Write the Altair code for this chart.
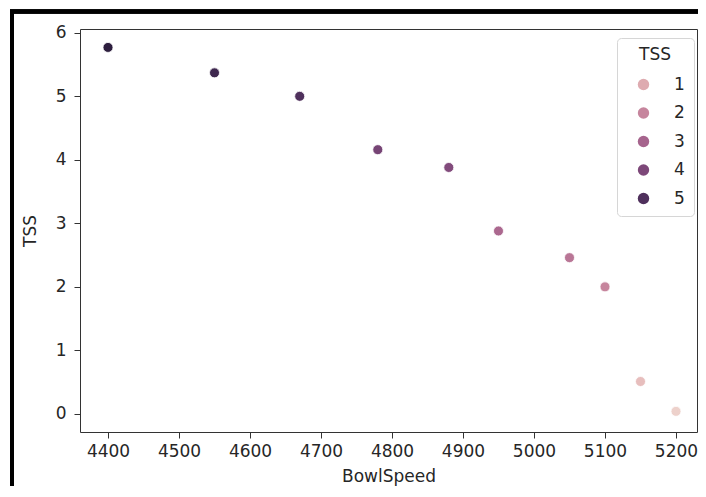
import altair as alt
import numpy as np
import pandas as pd

bowl_speed = [4400, 4550, 4670, 4780, 4880, 4950, 5050, 5100, 5150, 5200]
tss = [5.77, 5.37, 5.0, 4.16, 3.88, 2.88, 2.46, 2.0, 0.51, 0.04]
x_ticks = [4400, 4500, 4600, 4700, 4800, 4900, 5000, 5100, 5200]
y_ticks = [0, 1, 2, 3, 4, 5, 6]
legend_values = [1, 2, 3, 4, 5]

df = pd.DataFrame({"BowlSpeed": bowl_speed, "TSS": tss})


def cubehelix_hex(t, start=0.0, rot=0.4, gamma=1.0, hue=0.8, light=0.85, dark=0.15):
    x = light + (dark - light) * t
    xg = x ** gamma
    a = hue * xg * (1 - xg) / 2
    phi = 2 * np.pi * (start / 3 + rot * x)
    r = xg + a * (-0.14861 * np.cos(phi) + 1.78277 * np.sin(phi))
    g = xg + a * (-0.29227 * np.cos(phi) - 0.90649 * np.sin(phi))
    b = xg + a * (1.97294 * np.cos(phi))
    rgb = [int(round(min(max(c, 0), 1) * 255)) for c in (r, g, b)]
    return "#%02x%02x%02x" % tuple(rgb)


lo, hi = min(tss), max(tss)
stops = np.linspace(0, 1, 11)
color_domain = [float(lo + (hi - lo) * s) for s in stops]
color_range = [cubehelix_hex(s) for s in stops]

FONT = "DejaVu Sans"
TXT = "#262626"
FS = 17

points = alt.Chart(df).mark_circle(
    size=100, opacity=1, stroke="white", strokeWidth=0.8
).encode(
    x=alt.X("BowlSpeed:Q",
            scale=alt.Scale(domain=[4360.56, 5229.58], nice=False, zero=False),
            axis=alt.Axis(values=x_ticks, title="BowlSpeed", format="d")),
    y=alt.Y("TSS:Q",
            scale=alt.Scale(domain=[-0.285, 6.06], nice=False, zero=False),
            axis=alt.Axis(values=y_ticks, title="TSS", format="d")),
    color=alt.Color("TSS:Q",
                    scale=alt.Scale(domain=color_domain, range=color_range),
                    legend=alt.Legend(type="symbol", values=legend_values,
                                      title="TSS", orient="none",
                                      legendX=537, legendY=9,
                                      symbolType="circle", symbolSize=130,
                                      symbolStrokeWidth=0, symbolOffset=9,
                                      labelOffset=22, rowPadding=10.5,
                                      padding=9, titlePadding=12,
                                      titleAnchor="middle",
                                      strokeColor="#d6d6d6", cornerRadius=4,
                                      fillColor="white", format="d")),
)

frame_top = alt.Chart(df).mark_rule(color="black", strokeWidth=3.5).encode(
    x=alt.value(-70), x2=alt.value(640), y=alt.value(-17.5)
)
frame_left = alt.Chart(df).mark_rule(color="black", strokeWidth=3.5).encode(
    x=alt.value(-68), y=alt.value(-19), y2=alt.value(480)
)

chart = alt.layer(points, frame_top, frame_left).properties(
    width=617, height=403,
    autosize=alt.AutoSizeParams(type="none"),
    padding={"left": 72, "top": 21, "right": 1, "bottom": 54},
).configure_view(
    stroke="#333333", strokeWidth=1
).configure_axis(
    domain=False, grid=False,
    tickColor="#333333", tickSize=6, tickWidth=1,
    labelFont=FONT, labelFontSize=FS, labelColor=TXT,
    titleFont=FONT, titleFontSize=FS, titleColor=TXT, titleFontWeight="normal",
).configure_axisX(
    labelPadding=5, titlePadding=9, labelFlush=False
).configure_axisY(
    labelPadding=8, titlePadding=16
).configure_legend(
    titleFont=FONT, titleFontSize=FS, titleColor=TXT, titleFontWeight="normal",
    labelFont=FONT, labelFontSize=FS, labelColor=TXT,
)

chart.save("out.html", embed_options={"renderer": "svg", "actions": False})
